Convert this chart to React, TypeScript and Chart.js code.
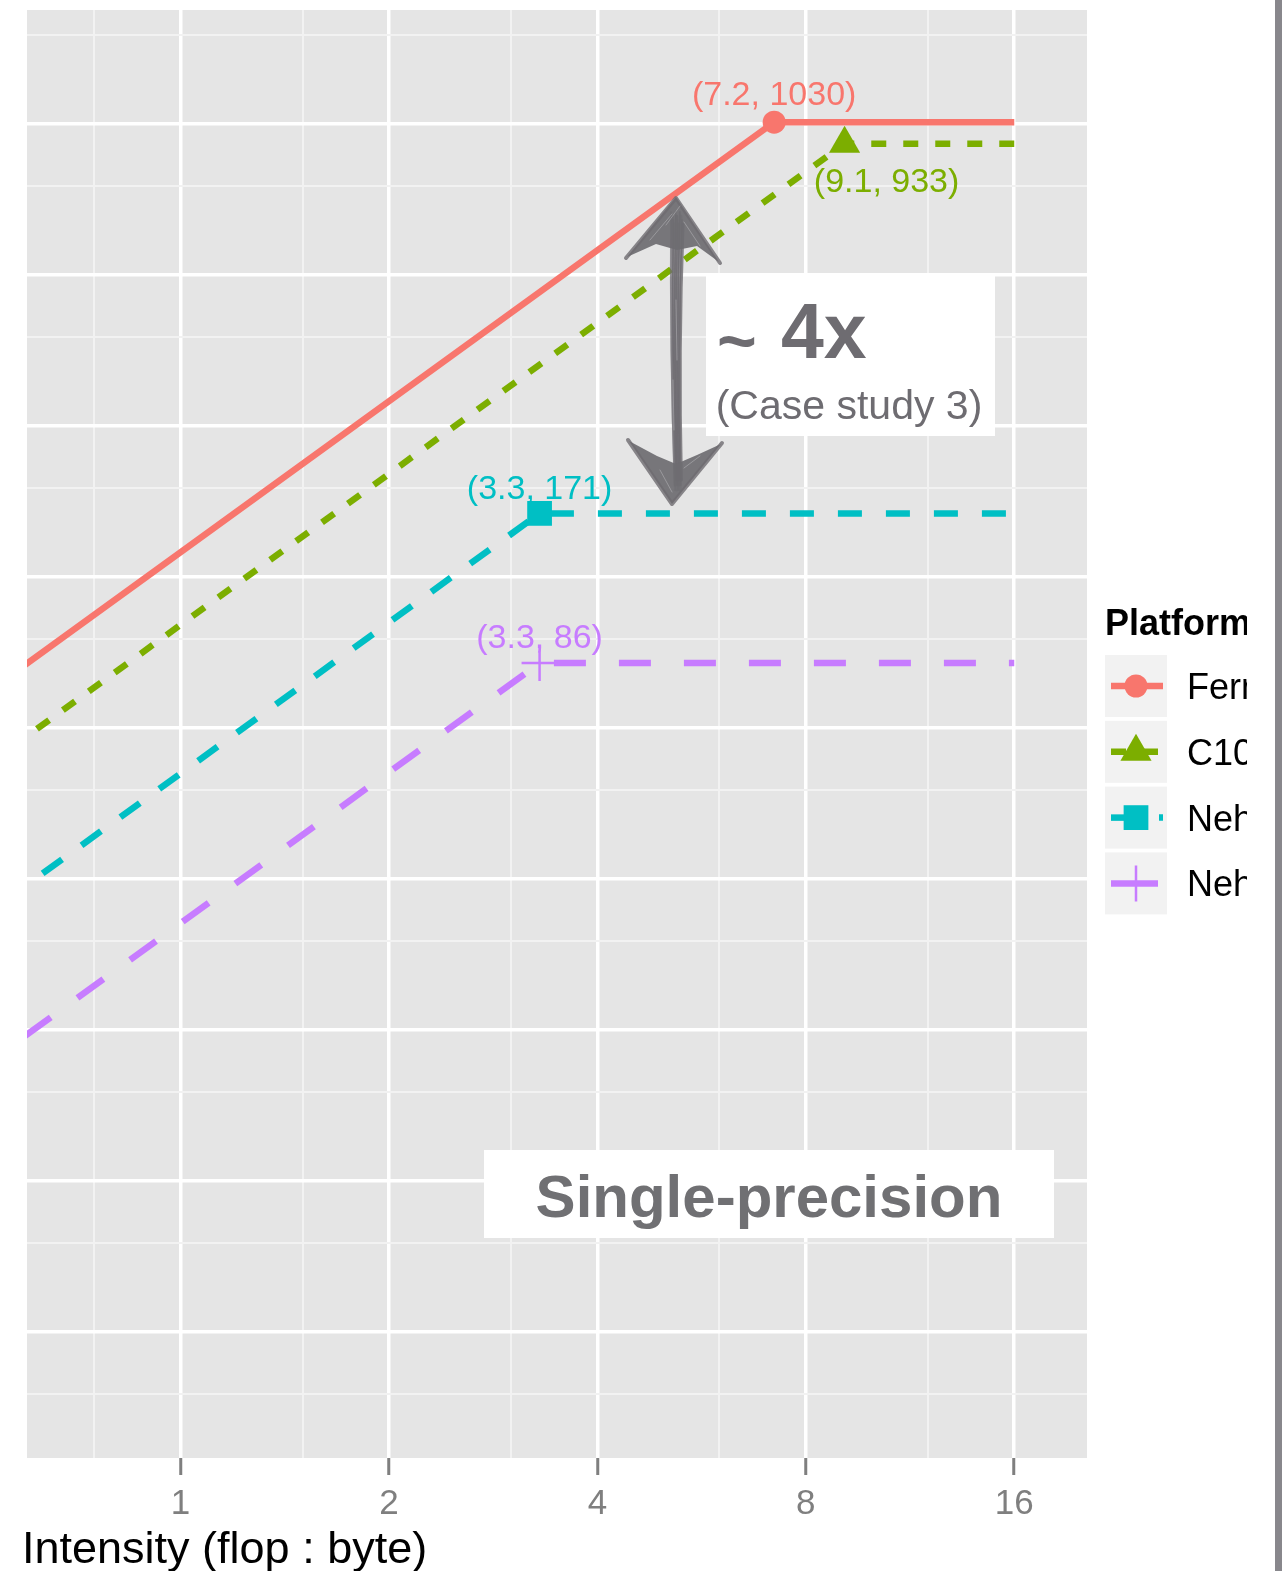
import React, { useEffect, useRef } from 'react';
import { Chart, registerables } from 'chart.js';

Chart.register(...registerables);

// Roofline data: one entry per platform
const platforms = ['Fermi', 'C1060', 'Nehalem x 2', 'Nehalem'];
const ridgeIntensity = [7.2, 9.1, 3.3, 3.3]; // flop : byte where the roof starts
const peakGflops = [1030, 933, 171, 86]; // single-precision peak
const roofStart = 0.5; // intensity where the bandwidth slope is drawn from
const roofEnd = 16; // intensity where the flat roof ends

// Axis breaks (log2 scale)
const xMajorTicks = [1, 2, 4, 8, 16];
const xMinorTicks = [0.75, 1.5, 3, 6, 12];
const yMajorTicks = [2, 4, 8, 16, 32, 64, 128, 256, 512, 1024];
const yMinorTicks = [3, 6, 12, 24, 48, 96, 192, 384, 768, 1536];
const xLimits = [0.6087, 20.38];
const yLimits = [2.238, 1724];

// Styling
const COLORS = ['#F8766D', '#7CAE00', '#00BFC4', '#C77CFF'];
const MARKERS = ['circle', 'triangle', 'rect', 'cross'];
const MARKER_RADIUS = [11.5, 18, 17.5, 18];
const DASHES: number[][] = [[], [15, 17], [24, 24], [32, 33]];
const DASH_OFFSET = [0, 16, 9, 0];
const LABEL_OFFSET = [
  [0, -27],
  [42, 39],
  [0, -24],
  [0, -24],
];
const FONT = '"Liberation Sans", Arial, Helvetica, sans-serif';
const NOTE_GRAY = '#6e6c71';

function drawMarker(
  ctx: CanvasRenderingContext2D,
  style: string,
  x: number,
  y: number,
  r: number,
  color: string
) {
  ctx.save();
  ctx.setLineDash([]);
  ctx.fillStyle = color;
  ctx.strokeStyle = color;
  ctx.beginPath();
  if (style === 'circle') {
    ctx.arc(x, y, r, 0, Math.PI * 2);
    ctx.fill();
  } else if (style === 'triangle') {
    ctx.moveTo(x, y - r);
    ctx.lineTo(x + r * Math.sin((2 * Math.PI) / 3), y + r * 0.5);
    ctx.lineTo(x - r * Math.sin((2 * Math.PI) / 3), y + r * 0.5);
    ctx.closePath();
    ctx.fill();
  } else if (style === 'rect') {
    const s = r * Math.SQRT1_2;
    ctx.rect(x - s, y - s, 2 * s, 2 * s);
    ctx.fill();
  } else {
    ctx.lineWidth = 2.5;
    ctx.moveTo(x - r, y);
    ctx.lineTo(x + r, y);
    ctx.moveTo(x, y - r);
    ctx.lineTo(x, y + r);
    ctx.stroke();
  }
  ctx.restore();
}

function drawSketchArrow(ctx: CanvasRenderingContext2D) {
  ctx.save();
  ctx.strokeStyle = NOTE_GRAY;
  ctx.fillStyle = NOTE_GRAY;
  ctx.lineCap = 'round';
  ctx.lineJoin = 'round';
  // hand-drawn shaft made of several overlapping pencil strokes
  const offs = [-6, -4.8, -3.6, -2.5, -1.4, -0.4, 0.6, 1.7, 2.8, 3.9, 5, 6];
  offs.forEach((o, k) => {
    ctx.globalAlpha = 0.5 + (k % 3) * 0.15;
    ctx.lineWidth = 1.8 + (k % 2) * 1.4;
    ctx.beginPath();
    ctx.moveTo(677 + o, 212 + (k % 4) * 4);
    ctx.quadraticCurveTo(674 + o * 0.7, 350, 678 + o * 0.55, 490 - (k % 3) * 5);
    ctx.stroke();
  });
  // top head
  ctx.globalAlpha = 0.92;
  ctx.beginPath();
  ctx.moveTo(676, 197);
  ctx.lineTo(627, 257);
  ctx.lineTo(656, 244);
  ctx.lineTo(677, 250);
  ctx.lineTo(697, 246);
  ctx.lineTo(719, 262);
  ctx.closePath();
  ctx.fill();
  ctx.globalAlpha = 0.8;
  ctx.lineWidth = 4;
  ctx.beginPath();
  ctx.moveTo(626, 258);
  ctx.lineTo(676, 198);
  ctx.lineTo(720, 263);
  ctx.stroke();
  // bottom head
  ctx.globalAlpha = 0.92;
  ctx.beginPath();
  ctx.moveTo(672, 504);
  ctx.lineTo(629, 441);
  ctx.lineTo(657, 456);
  ctx.lineTo(676, 464);
  ctx.lineTo(697, 455);
  ctx.lineTo(721, 444);
  ctx.closePath();
  ctx.fill();
  ctx.globalAlpha = 0.8;
  ctx.lineWidth = 4;
  ctx.beginPath();
  ctx.moveTo(628, 440);
  ctx.lineTo(672, 504);
  ctx.lineTo(722, 443);
  ctx.stroke();
  // light streaks to give the pencil texture
  ctx.globalAlpha = 0.3;
  ctx.strokeStyle = '#e8e8ea';
  ctx.lineWidth = 1;
  const streaks = [
    [666, 225, 680, 206],
    [650, 240, 672, 214],
    [684, 222, 700, 246],
    [660, 470, 672, 492],
    [684, 468, 700, 456],
    [676, 300, 677, 360],
    [673, 380, 674, 430],
  ];
  streaks.forEach(([a, b, c, d]) => {
    ctx.beginPath();
    ctx.moveTo(a, b);
    ctx.lineTo(c, d);
    ctx.stroke();
  });
  ctx.restore();
}

const isMajor = (list: number[], v: number) => list.some((m) => Math.abs(m - v) < 1e-9);

const panelPlugin = {
  id: 'panel',
  beforeDraw(chart: any) {
    const { ctx, chartArea: a, width, height } = chart;
    ctx.save();
    ctx.fillStyle = '#ffffff';
    ctx.fillRect(0, 0, width, height);
    ctx.fillStyle = '#e5e5e5';
    ctx.fillRect(a.left, a.top, a.right - a.left, a.bottom - a.top);
    ctx.restore();
  },
};

const notesPlugin = {
  id: 'notes',
  afterDatasetsDraw(chart: any) {
    const { ctx } = chart;
    const xs = chart.scales.x;
    const ys = chart.scales.y;
    ctx.save();
    // point value labels
    ctx.font = `34px ${FONT}`;
    ctx.textAlign = 'center';
    ctx.textBaseline = 'middle';
    platforms.forEach((_, i) => {
      const px = xs.getPixelForValue(ridgeIntensity[i]);
      const py = ys.getPixelForValue(peakGflops[i]);
      ctx.fillStyle = COLORS[i];
      ctx.fillText(
        `(${ridgeIntensity[i]}, ${peakGflops[i]})`,
        px + LABEL_OFFSET[i][0],
        py + LABEL_OFFSET[i][1]
      );
    });

    // speed-up callout
    drawSketchArrow(ctx);
    ctx.fillStyle = '#ffffff';
    ctx.fillRect(706, 274, 289, 162);
    ctx.fillStyle = NOTE_GRAY;
    ctx.textAlign = 'left';
    ctx.textBaseline = 'alphabetic';
    ctx.font = `bold 68px ${FONT}`;
    ctx.fillText('~', 717, 364);
    ctx.font = `bold 77px ${FONT}`;
    ctx.fillText('4x', 781, 358);
    ctx.font = `41px ${FONT}`;
    ctx.textAlign = 'center';
    ctx.fillText('(Case study 3)', 849, 419);

    // panel caption
    ctx.fillStyle = '#ffffff';
    ctx.fillRect(484, 1150, 570, 88);
    ctx.fillStyle = '#707073';
    ctx.font = `bold 60px ${FONT}`;
    ctx.fillText('Single-precision', 769, 1217);
    ctx.restore();
  },
  afterDraw(chart: any) {
    const { ctx, chartArea: a, width, height } = chart;
    ctx.save();
    // axis title
    ctx.fillStyle = '#000000';
    ctx.font = `45px ${FONT}`;
    ctx.textAlign = 'left';
    ctx.textBaseline = 'alphabetic';
    ctx.fillText('Intensity (flop : byte)', 22, 1563);

    // legend
    ctx.save();
    ctx.beginPath();
    ctx.rect(a.right, 0, 160, height);
    ctx.clip();
    const lx = a.right + 18;
    ctx.font = `bold 36px ${FONT}`;
    ctx.textBaseline = 'middle';
    ctx.fillText('Platform', lx, 625);
    platforms.forEach((name, i) => {
      const top = 655 + i * 65.8;
      const cy = top + 31;
      ctx.fillStyle = '#f2f2f2';
      ctx.fillRect(lx, top, 62, 62);
      ctx.save();
      ctx.beginPath();
      ctx.rect(lx + 6, top, 52, 62);
      ctx.clip();
      ctx.strokeStyle = COLORS[i];
      ctx.lineWidth = 6.5;
      ctx.setLineDash(DASHES[i].length ? DASHES[i] : []);
      if (i === 3) ctx.setLineDash([47, 20]);
      ctx.beginPath();
      ctx.moveTo(lx + 6, cy);
      ctx.lineTo(lx + 58, cy);
      ctx.stroke();
      ctx.restore();
      drawMarker(ctx, MARKERS[i], lx + 31, cy, MARKER_RADIUS[i], COLORS[i]);
      ctx.fillStyle = '#000000';
      ctx.font = `36px ${FONT}`;
      ctx.textAlign = 'left';
      ctx.fillText(name, lx + 82, cy + 3);
    });
    ctx.restore();

    // frame edge at the right
    ctx.fillStyle = '#88878c';
    ctx.fillRect(width - 7, 0, 7, height);
    ctx.restore();
  },
};

export default function App() {
  const canvasRef = useRef<HTMLCanvasElement>(null);

  useEffect(() => {
    const canvas = canvasRef.current;
    if (!canvas) return;

    const datasets = platforms.map((name, i) => ({
      label: name,
      data: [
        { x: roofStart, y: (peakGflops[i] * roofStart) / ridgeIntensity[i] },
        { x: ridgeIntensity[i], y: peakGflops[i] },
        { x: roofEnd, y: peakGflops[i] },
      ],
      borderColor: COLORS[i],
      backgroundColor: COLORS[i],
      borderWidth: 6.5,
      borderDash: DASHES[i],
      borderDashOffset: DASH_OFFSET[i],
      borderCapStyle: 'butt' as const,
      tension: 0,
      pointStyle: MARKERS[i] as any,
      pointRadius: [0, MARKER_RADIUS[i], 0],
      pointBackgroundColor: COLORS[i],
      pointBorderColor: COLORS[i],
      pointBorderWidth: i === 3 ? 2.5 : 0,
      pointHoverRadius: 0,
    }));

    const chart = new Chart(canvas, {
      type: 'line',
      data: { datasets },
      options: {
        responsive: false,
        devicePixelRatio: 1,
        animation: false,
        events: [],
        layout: { padding: { left: 27, top: 10, right: 195, bottom: 0 } },
        plugins: { legend: { display: false }, tooltip: { enabled: false } },
        scales: {
          x: {
            type: 'logarithmic',
            min: xLimits[0],
            max: xLimits[1],
            afterBuildTicks: (scale: any) => {
              scale.ticks = [...xMinorTicks, ...xMajorTicks]
                .sort((p, q) => p - q)
                .map((v) => ({ value: v }));
            },
            afterFit: (scale: any) => {
              scale.height = 113;
            },
            border: { display: false },
            grid: {
              color: (c: any) => (isMajor(xMajorTicks, c.tick.value) ? '#ffffff' : '#f2f2f2'),
              lineWidth: (c: any) => (isMajor(xMajorTicks, c.tick.value) ? 3.5 : 2),
              tickColor: (c: any) =>
                isMajor(xMajorTicks, c.tick.value) ? '#7f7f7f' : 'rgba(0,0,0,0)',
              tickWidth: 3,
              tickLength: 17,
              drawTicks: true,
            },
            ticks: {
              autoSkip: false,
              maxRotation: 0,
              padding: 8,
              color: '#7f7f7f',
              font: { family: FONT, size: 35 },
              callback: (v: any) => (isMajor(xMajorTicks, Number(v)) ? String(Number(v)) : ''),
            },
          },
          y: {
            type: 'logarithmic',
            min: yLimits[0],
            max: yLimits[1],
            afterBuildTicks: (scale: any) => {
              scale.ticks = [...yMinorTicks, ...yMajorTicks]
                .filter((v) => v >= yLimits[0] && v <= yLimits[1])
                .sort((p, q) => p - q)
                .map((v) => ({ value: v }));
            },
            afterFit: (scale: any) => {
              scale.width = 0;
            },
            border: { display: false },
            grid: {
              color: (c: any) => (isMajor(yMajorTicks, c.tick.value) ? '#ffffff' : '#f2f2f2'),
              lineWidth: (c: any) => (isMajor(yMajorTicks, c.tick.value) ? 3.5 : 2),
              drawTicks: false,
            },
            ticks: { display: false },
          },
        },
      },
      plugins: [panelPlugin, notesPlugin],
    });

    return () => chart.destroy();
  }, []);

  return (
    <div style={{ position: 'absolute', left: 0, top: 0, width: 1282, height: 1571 }}>
      <canvas ref={canvasRef} width={1282} height={1571} style={{ display: 'block' }} />
    </div>
  );
}
